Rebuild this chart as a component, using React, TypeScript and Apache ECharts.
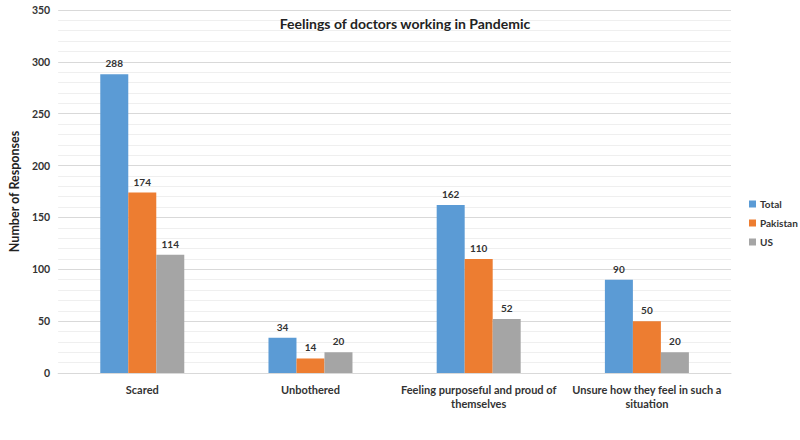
import React, { useEffect, useRef } from "react";
import * as echarts from "echarts";

const categories = [
  "Scared",
  "Unbothered",
  "Feeling purposeful and proud of\nthemselves",
  "Unsure how they feel in such a\nsituation",
];
const seriesNames = ["Total", "Pakistan", "US"];
const totalValues = [288, 34, 162, 90];
const pakistanValues = [174, 14, 110, 50];
const usValues = [114, 20, 52, 20];
const colors = ["#5b9bd5", "#ed7d31", "#a5a5a5"];

export default function App() {
  const ref = useRef<HTMLDivElement>(null);
  useEffect(() => {
    if (!ref.current) return;
    const chart = echarts.init(ref.current, undefined, { renderer: "svg" });
    const font = "Lato, 'Liberation Sans', sans-serif";
    const data = [totalValues, pakistanValues, usValues];
    chart.setOption({
      animation: false,
      backgroundColor: "#ffffff",
      textStyle: { fontFamily: font },
      title: {
        text: "Feelings of doctors working in Pandemic",
        left: 400,
        top: 11,
        textAlign: "center",
        textStyle: { fontSize: 14, fontWeight: "bold", color: "#222", fontFamily: font },
      },
      legend: {
        orient: "vertical",
        left: 744,
        top: 194,
        itemWidth: 7,
        itemHeight: 7,
        itemGap: 9,
        icon: "rect",
        textStyle: { fontSize: 10, fontWeight: "bold", color: "#333", fontFamily: font, padding: [0, 0, 0, -1] },
        data: seriesNames,
      },
      grid: { left: 51, right: 69, top: 10, bottom: 67, containLabel: false },
      xAxis: {
        type: "category",
        data: categories,
        axisLine: { lineStyle: { color: "#d9d9d9" } },
        axisTick: { show: false },
        axisLabel: {
          fontSize: 11,
          fontWeight: "bold",
          color: "#333",
          margin: 9,
          lineHeight: 14,
          interval: 0,
          fontFamily: font,
        },
      },
      yAxis: {
        type: "value",
        min: 0,
        max: 350,
        interval: 50,
        name: "Number of Responses",
        nameLocation: "middle",
        nameGap: 32,
        nameTextStyle: { fontSize: 12.5, fontWeight: "bold", color: "#222", fontFamily: font },
        axisLine: { show: false },
        axisTick: { show: false },
        axisLabel: { fontSize: 10.5, fontWeight: "bold", color: "#333", margin: 8, fontFamily: font },
        splitLine: { lineStyle: { color: "#d9d9d9" } },
        minorTick: { show: false, splitNumber: 5 },
        minorSplitLine: { show: true, lineStyle: { color: "#efefef" } },
      },
      series: seriesNames.map((name, i) => ({
        name,
        type: "bar",
        data: data[i],
        barWidth: 28,
        barGap: "0%",
        itemStyle: { color: colors[i] },
        label: {
          show: true,
          position: "top",
          distance: 6,
          fontSize: 10,
          fontWeight: "bold",
          color: "#333",
          fontFamily: font,
        },
      })),
    });
    return () => chart.dispose();
  }, []);
  return <div ref={ref} style={{ width: 800, height: 440, position: "absolute", left: 0, top: 0 }} />;
}
